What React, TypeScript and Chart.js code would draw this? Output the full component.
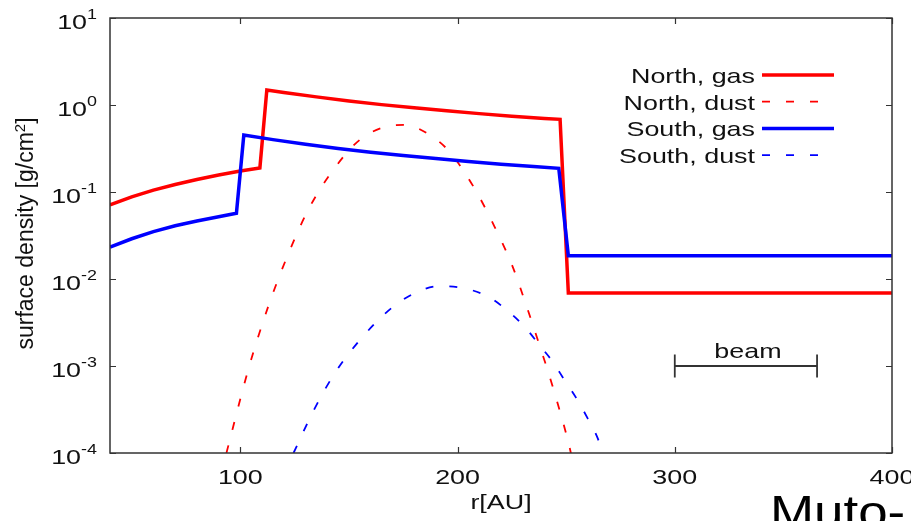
import { useEffect, useRef } from "react";
import { Chart, registerables } from "chart.js";

Chart.register(...registerables);

const W = 911;
const H = 521;

// Radius grid [AU] and surface density [g/cm^2] for each profile
const northGasR = [40, 50, 60, 70, 80, 90, 100, 109, 112.2, 120, 135, 150, 165, 180, 195, 210, 225, 240, 247.2, 251, 400];
const northGasSigma = [0.071, 0.088, 0.105, 0.122, 0.139, 0.157, 0.174, 0.189, 1.49, 1.39, 1.24, 1.11, 1.01, 0.93, 0.857, 0.796, 0.743, 0.7, 0.685, 0.0069, 0.0069];

const southGasR = [40, 50, 60, 70, 80, 90, 98.2, 101.6, 115, 130, 145, 160, 175, 190, 205, 220, 235, 246.6, 251, 400];
const southGasSigma = [0.0233, 0.029, 0.035, 0.041, 0.0465, 0.052, 0.057, 0.452, 0.4, 0.353, 0.317, 0.287, 0.262, 0.242, 0.224, 0.209, 0.196, 0.187, 0.0185, 0.0185];

const northDustR = [93.6, 103.6, 112.8, 122.8, 131.2, 141.1, 154.9, 168.7, 175.5, 187.9, 196.3, 207.8, 217, 225.4, 231.6, 237.7, 243.8, 251.5, 253];
const northDustSigma = [1.0e-4, 9.0e-4, 4.8e-3, 0.0215, 0.062, 0.157, 0.396, 0.574, 0.59, 0.441, 0.29, 0.11, 0.04, 0.0138, 5.0e-3, 1.74e-3, 5.8e-4, 1.18e-4, 0.8e-4];

const southDustR = [124.5, 133.5, 143.4, 155.7, 170.3, 180.2, 191.7, 203.2, 213.9, 223.1, 230.8, 237.7, 243.8, 249.2, 254.6, 259.9, 264.5, 266.7];
const southDustSigma = [1.0e-4, 3.0e-4, 8.2e-4, 2.08e-3, 4.8e-3, 6.85e-3, 8.3e-3, 7.8e-3, 6.3e-3, 4.3e-3, 2.83e-3, 1.74e-3, 1.12e-3, 6.9e-4, 4.3e-4, 2.5e-4, 1.48e-4, 1.0e-4];

// Beam size bar
const beamR = [300, 365.5];
const beamSigma = 1e-3;

const seriesLabels = ["North, gas", "North, dust", "South, gas", "South, dust"];
const xTicks = [100, 200, 300, 400];
const yTickExponents = [1, 0, -1, -2, -3, -4];

const RED = "#ff0000";
const BLUE = "#0000ff";
const AXIS = "#333333";
const FONT = "'Liberation Sans', Arial, sans-serif";
const SX = 1.28; // horizontal widening of the label glyphs

const toPoints = (r: number[], s: number[]) => r.map((x, i) => ({ x, y: s[i] }));

function wideText(
  ctx: CanvasRenderingContext2D,
  text: string,
  x: number,
  y: number,
  align: "left" | "center" | "right",
  size: number,
  sx = SX
) {
  ctx.save();
  ctx.font = `${size}px ${FONT}`;
  const w = ctx.measureText(text).width * sx;
  let left = x;
  if (align === "center") left = x - w / 2;
  if (align === "right") left = x - w;
  ctx.translate(left, y);
  ctx.scale(sx, 1);
  ctx.textAlign = "left";
  ctx.textBaseline = "alphabetic";
  ctx.fillText(text, 0, 0);
  ctx.restore();
  return w;
}

function measure(ctx: CanvasRenderingContext2D, text: string, size: number, sx = SX) {
  ctx.save();
  ctx.font = `${size}px ${FONT}`;
  const w = ctx.measureText(text).width * sx;
  ctx.restore();
  return w;
}

const decorations = {
  id: "decorations",
  afterDraw(chart: any) {
    const ctx: CanvasRenderingContext2D = chart.ctx;
    const { left, right, top, bottom } = chart.chartArea;
    const xs = chart.scales.x;
    const ys = chart.scales.y;

    ctx.save();
    // frame
    ctx.strokeStyle = AXIS;
    ctx.lineWidth = 1.5;
    ctx.strokeRect(left, top, right - left, bottom - top);

    // inward tick marks on all four sides
    const tl = 6;
    ctx.lineWidth = 1.2;
    ctx.beginPath();
    xTicks.forEach((v) => {
      const px = Math.round(xs.getPixelForValue(v)) + 0.5;
      ctx.moveTo(px, bottom);
      ctx.lineTo(px, bottom - tl);
      ctx.moveTo(px, top);
      ctx.lineTo(px, top + tl);
    });
    yTickExponents.forEach((e) => {
      const py = Math.round(ys.getPixelForValue(Math.pow(10, e))) + 0.5;
      ctx.moveTo(left, py);
      ctx.lineTo(left + tl, py);
      ctx.moveTo(right, py);
      ctx.lineTo(right - tl, py);
    });
    ctx.stroke();

    ctx.fillStyle = "#111111";
    // x tick labels
    xTicks.forEach((v) => {
      wideText(ctx, String(v), xs.getPixelForValue(v), bottom + 31, "center", 21);
    });

    // y tick labels: 10 with a raised exponent
    const labelRight = left - 13;
    yTickExponents.forEach((e) => {
      const py = ys.getPixelForValue(Math.pow(10, e));
      const sup = String(e);
      const supW = measure(ctx, sup, 14);
      wideText(ctx, sup, labelRight - supW, py + 1, "left", 14);
      wideText(ctx, "10", labelRight - supW, py + 11, "right", 21);
    });

    // x axis title
    wideText(ctx, "r[AU]", (left + right) / 2, bottom + 56, "center", 21);

    // y axis title, rotated
    ctx.save();
    ctx.translate(33, (top + bottom) / 2 - 2);
    ctx.rotate(-Math.PI / 2);
    ctx.font = `23px ${FONT}`;
    const p1 = "surface density [g/cm";
    const p3 = "]";
    const w1 = ctx.measureText(p1).width;
    const w3 = ctx.measureText(p3).width;
    ctx.font = `15px ${FONT}`;
    const w2 = ctx.measureText("2").width;
    const x0 = -(w1 + w2 + w3) / 2;
    ctx.textBaseline = "alphabetic";
    ctx.textAlign = "left";
    ctx.font = `23px ${FONT}`;
    ctx.fillText(p1, x0, 0);
    ctx.font = `15px ${FONT}`;
    ctx.fillText("2", x0 + w1, -8);
    ctx.font = `23px ${FONT}`;
    ctx.fillText(p3, x0 + w1 + w2, 0);
    ctx.restore();

    // key
    const styles = [
      { color: RED, width: 3.5, dash: [] as number[] },
      { color: RED, width: 1.8, dash: [8, 16] },
      { color: BLUE, width: 3.5, dash: [] as number[] },
      { color: BLUE, width: 1.8, dash: [8, 16] },
    ];
    const keyTextRight = 755;
    const keyLineX0 = 762;
    const keyLineX1 = 834;
    const keyY0 = 75;
    const keyStep = 26.7;
    seriesLabels.forEach((label, i) => {
      const y = keyY0 + i * keyStep;
      ctx.fillStyle = "#111111";
      wideText(ctx, label, keyTextRight, y + 8, "right", 21);
      ctx.save();
      ctx.strokeStyle = styles[i].color;
      ctx.lineWidth = styles[i].width;
      ctx.setLineDash(styles[i].dash);
      ctx.beginPath();
      ctx.moveTo(keyLineX0, y);
      ctx.lineTo(keyLineX1, y);
      ctx.stroke();
      ctx.restore();
    });

    // beam label
    const bx = (xs.getPixelForValue(beamR[0]) + xs.getPixelForValue(beamR[1])) / 2 + 2;
    const by = ys.getPixelForValue(beamSigma);
    ctx.fillStyle = "#111111";
    wideText(ctx, "beam", bx, by - 8, "center", 21);

    // caption text at the lower right
    ctx.fillStyle = "#000000";
    wideText(ctx, "Muto-", 770, 528, "left", 46, 1.15);

    ctx.restore();
  },
};

export default function App() {
  const ref = useRef<HTMLCanvasElement>(null);

  useEffect(() => {
    document.body.style.margin = "0";
    const canvas = ref.current;
    if (!canvas) return;

    const chart = new Chart(canvas, {
      type: "line",
      data: {
        datasets: [
          {
            label: seriesLabels[2],
            data: toPoints(southGasR, southGasSigma),
            borderColor: BLUE,
            borderWidth: 3.5,
            pointRadius: 0,
            tension: 0,
            order: 0,
          },
          {
            label: seriesLabels[3],
            data: toPoints(southDustR, southDustSigma),
            borderColor: BLUE,
            borderWidth: 1.8,
            borderDash: [8, 16],
            pointRadius: 0,
            cubicInterpolationMode: "monotone",
            order: 1,
          },
          {
            label: seriesLabels[0],
            data: toPoints(northGasR, northGasSigma),
            borderColor: RED,
            borderWidth: 3.5,
            pointRadius: 0,
            tension: 0,
            order: 2,
          },
          {
            label: seriesLabels[1],
            data: toPoints(northDustR, northDustSigma),
            borderColor: RED,
            borderWidth: 1.8,
            borderDash: [8, 16],
            pointRadius: 0,
            cubicInterpolationMode: "monotone",
            order: 3,
          },
          {
            label: "beam",
            data: beamR.map((x) => ({ x, y: beamSigma })),
            borderColor: AXIS,
            borderWidth: 1.8,
            pointStyle: "line",
            pointRotation: 90,
            pointRadius: 11.5,
            pointBorderWidth: 1.8,
            pointBorderColor: AXIS,
            order: 4,
          },
        ],
      },
      options: {
        animation: false,
        responsive: false,
        devicePixelRatio: 1,
        layout: { padding: { left: 110, top: 18, right: 19, bottom: 68 } },
        plugins: {
          legend: { display: false },
          tooltip: { enabled: false },
        },
        scales: {
          x: { type: "linear", min: 40, max: 400, display: false },
          y: { type: "logarithmic", min: 1e-4, max: 10, display: false },
        },
      },
      plugins: [decorations],
    });

    return () => chart.destroy();
  }, []);

  return (
    <canvas
      ref={ref}
      width={W}
      height={H}
      style={{ display: "block", width: W, height: H }}
    />
  );
}
